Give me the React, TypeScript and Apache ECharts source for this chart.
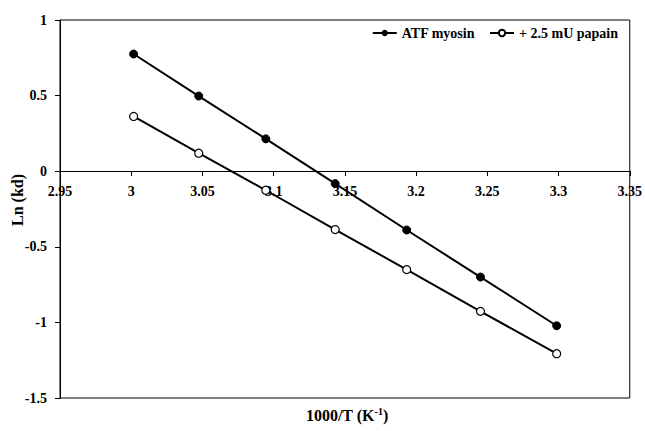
import React, { useEffect, useRef } from "react";
import * as echarts from "echarts";

const xValues = [3.0017, 3.0474, 3.0945, 3.1432, 3.1934, 3.2452, 3.2987];
const atfMyosin = [0.775, 0.497, 0.214, -0.082, -0.389, -0.7, -1.022];
const papain = [0.362, 0.119, -0.126, -0.386, -0.651, -0.927, -1.207];
const seriesNames = ["ATF myosin", "+ 2.5 mU papain"];

const FONT = "'Liberation Serif', 'Times New Roman', serif";

export default function App() {
  const ref = useRef<HTMLDivElement>(null);
  useEffect(() => {
    if (!ref.current) return;
    const chart = echarts.init(ref.current, null, { renderer: "svg" });
    chart.setOption({
      animation: false,
      backgroundColor: "#fff",
      textStyle: { fontFamily: FONT },
      grid: {
        left: 60,
        top: 20,
        right: 13,
        bottom: 33,
        show: true,
        borderColor: "#000",
        borderWidth: 1,
        backgroundColor: "transparent",
      },
      legend: {
        top: 21,
        right: 22,
        itemWidth: 24,
        itemHeight: 8,
        itemGap: 14,
        textStyle: { fontFamily: FONT, fontWeight: "bold", fontSize: 14, color: "#000" },
        data: seriesNames,
      },
      xAxis: {
        type: "value",
        min: 2.95,
        max: 3.35,
        interval: 0.05,
        position: "bottom",
        offset: -227,
        axisLine: { onZero: false, lineStyle: { color: "#000", width: 1 } },
        axisTick: { show: true, inside: false, length: 5, lineStyle: { color: "#000" } },
        axisLabel: {
          color: "#000",
          fontFamily: FONT,
          fontWeight: "bold",
          fontSize: 14,
          margin: 13,
          showMinLabel: true,
          showMaxLabel: true,
          formatter: (v: number) => String(+v.toFixed(2)),
        },
        splitLine: { show: false },
      },
      yAxis: {
        type: "value",
        min: -1.5,
        max: 1,
        interval: 0.5,
        axisLine: { show: true, lineStyle: { color: "#000", width: 1 } },
        axisTick: { show: true, inside: false, length: 5, lineStyle: { color: "#000" } },
        axisLabel: {
          color: "#000",
          fontFamily: FONT,
          fontWeight: "bold",
          fontSize: 14,
          margin: 13,
          formatter: (v: number) => String(+v.toFixed(2)),
        },
        splitLine: { show: false },
      },
      graphic: [
        {
          type: "text",
          x: 17,
          y: 200,
          rotation: Math.PI / 2,
          style: {
            text: "Ln (kd)",
            fontFamily: FONT,
            fontWeight: "bold",
            fontSize: 16,
            fill: "#000",
            align: "center",
            verticalAlign: "middle",
          },
        },
        {
          type: "text",
          x: 347,
          y: 415,
          style: {
            text: "1000/T (K{sup|-1})",
            rich: {
              sup: { fontSize: 10, fontWeight: "bold", fontFamily: FONT, verticalAlign: "top", padding: [0, 0, 7, 0] },
            },
            fontFamily: FONT,
            fontWeight: "bold",
            fontSize: 16,
            fill: "#000",
            align: "center",
            verticalAlign: "middle",
          },
        },
      ],
      series: [
        {
          name: seriesNames[0],
          type: "line",
          data: xValues.map((x, i) => [x, atfMyosin[i]]),
          symbol: "circle",
          symbolSize: 8,
          lineStyle: { color: "#000", width: 2 },
          itemStyle: { color: "#000", borderColor: "#000" },
        },
        {
          name: seriesNames[1],
          type: "line",
          data: xValues.map((x, i) => [x, papain[i]]),
          symbol: "circle",
          symbolSize: 8,
          lineStyle: { color: "#000", width: 2 },
          itemStyle: { color: "#fff", borderColor: "#000", borderWidth: 1.2 },
        },
      ],
    });
    return () => chart.dispose();
  }, []);
  return <div ref={ref} style={{ width: 645, height: 431, position: "absolute", left: 0, top: 0 }} />;
}
